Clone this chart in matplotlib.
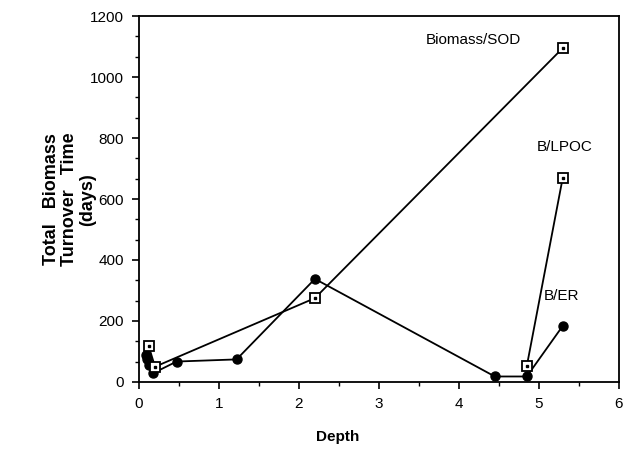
import matplotlib
matplotlib.use("Agg")
import matplotlib.pyplot as plt
from matplotlib.ticker import MultipleLocator, AutoMinorLocator

# data
sod_x = [0.12, 0.2, 2.2, 5.3]
sod_y = [118, 50, 275, 1095]

lpoc_x = [4.85, 5.3]
lpoc_y = [52, 670]

er_x = [0.09, 0.1, 0.13, 0.17, 0.47, 1.22, 2.2, 4.45, 4.85, 5.3]
er_y = [90, 74, 57, 28, 67, 74, 338, 18, 18, 184]

labels = ["Biomass/SOD", "B/LPOC", "B/ER"]
label_x = [4.18, 5.32, 5.29]
label_y = [1121, 770, 282]

plt.rcParams.update({
    "font.family": ["Liberation Sans", "DejaVu Sans"],
    "font.size": 11,
})

fig = plt.figure(figsize=(6.32, 4.58), dpi=100)
ax = fig.add_axes([0.22, 0.166, 0.759, 0.799])

# circles line
ax.plot(er_x, er_y, color="black", linewidth=1.3, marker="o",
        markersize=6.5, markerfacecolor="black", zorder=3)

# open squares with a dot in the middle
for xs, ys in [(sod_x, sod_y), (lpoc_x, lpoc_y)]:
    ax.plot(xs, ys, color="black", linewidth=1.3, marker="s",
            markersize=6.5, markerfacecolor="white",
            markeredgewidth=1.3, zorder=4)
    ax.plot(xs, ys, linestyle="none", marker="s", markersize=1.8,
            color="black", zorder=5)

for t, x, y in zip(labels, label_x, label_y):
    ax.text(x, y, t, ha="center", va="center", fontsize=11)

ax.set_xlim(0, 6)
ax.set_ylim(0, 1200)
ax.xaxis.set_major_locator(MultipleLocator(1))
ax.xaxis.set_minor_locator(MultipleLocator(0.5))
ax.yaxis.set_major_locator(MultipleLocator(200))
ax.yaxis.set_minor_locator(AutoMinorLocator(3))
ax.tick_params(which="major", direction="out", length=5, width=1.2, pad=6)
ax.tick_params(which="minor", direction="out", length=3, width=1.0)
for spine in ax.spines.values():
    spine.set_linewidth(1.3)

fig.text(0.535, 0.045, "Depth", ha="center", va="center",
         fontsize=11, fontweight="bold")
fig.text(0.11, 0.565, "Total   Biomass\nTurnover   Time\n(days)",
         ha="center", va="center", rotation=90, multialignment="center",
         fontsize=13, fontweight="bold", linespacing=1.05)

fig.savefig("out.png", dpi=100)
